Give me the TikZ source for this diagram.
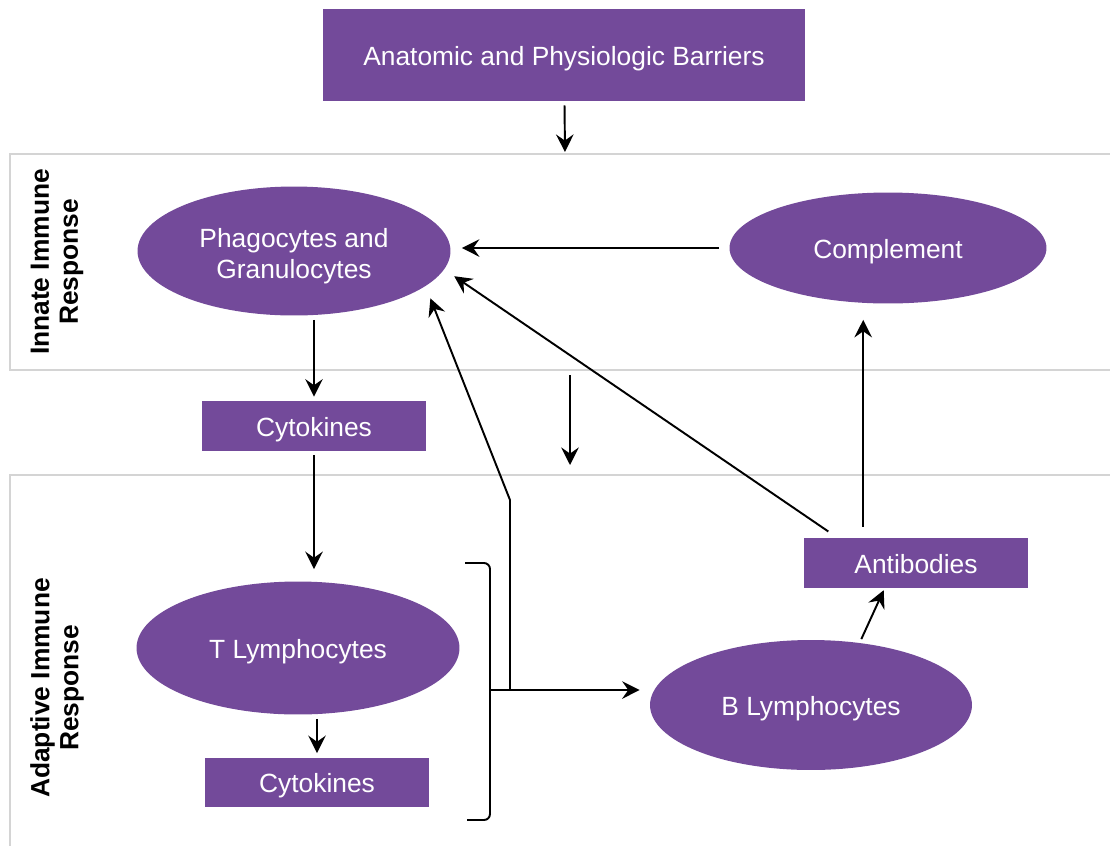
\documentclass[tikz,border=0pt]{standalone}
\usepackage{fontspec}
\setmainfont{Liberation Sans}
\usepackage{tikz}
\usetikzlibrary{shapes}
\usetikzlibrary{arrows.meta}
\usetikzlibrary{shapes.geometric}
\usetikzlibrary{calc}
\definecolor{immune}{RGB}{115,74,154}
\definecolor{panelgray}{RGB}{212,212,212}
\tikzstyle{materia}=[fill=immune, text=white, align=center, inner sep=0pt,
  font=\fontsize{15}{17.6}\selectfont]
\tikzstyle{oneline} = [text height=15pt, text depth=3.3pt]
\tikzstyle{rbox} = [materia, oneline, rectangle]
\tikzstyle{cell} = [materia, ellipse]
\tikzstyle{line} = [draw, line width=1.1pt, -{Stealth[length=10pt,width=10pt,inset=3.5pt]},
  shorten <=0.08cm, shorten >=0.08cm]
\tikzstyle{brace} = [draw, line width=1.1pt, rounded corners=0.12cm]
\tikzstyle{panel} = [draw=panelgray, line width=1.5pt]
\tikzstyle{sidetext} = [rotate=90, align=center,
  font=\bfseries\fontsize{15}{16.5}\selectfont]
\newcommand{\rbox}[3]{node (#1) [rbox,#2] {#3}}
\newcommand{\cellnode}[3]{node (#1) [cell,#2] {#3}}

\begin{document}
\begin{tikzpicture}[x=0.02cm, y=-0.02cm]
    \useasboundingbox (0,0) rectangle (1110,846);

    % Draw panels
    \path [panel] (1110,154) -- (10,154) -- (10,370) -- (1110,370);
    \path [panel] (1110,475) -- (10,475) -- (10,846);
    \path (57,262) node (innate) [sidetext] {Innate Immune\\Response};
    \path (57,688) node (adapt) [sidetext] {Adaptive Immune\\Response};

    % Draw diagram elements
    \path (564,55) \rbox{barr}{minimum width=9.66cm, minimum height=1.84cm}{Anatomic and Physiologic Barriers};
    \path (294,251) \cellnode{phago}{minimum width=6.26cm, minimum height=2.58cm}{\rule{0pt}{16.5pt}Phagocytes and\\Granulocytes};
    \path (888,248) \cellnode{compl}{oneline, minimum width=6.34cm, minimum height=2.22cm}{Complement};
    \path (314,426) \rbox{cytoA}{minimum width=4.5cm, minimum height=1cm}{Cytokines};
    \path (298,648) \cellnode{tlym}{oneline, minimum width=6.46cm, minimum height=2.66cm}{T Lymphocytes};
    \path (317,782) \rbox{cytoB}{minimum width=4.48cm, minimum height=0.98cm}{Cytokines};
    \path (811,705) \cellnode{blym}{oneline, minimum width=6.44cm, minimum height=2.6cm}{B Lymphocytes};
    \path (916,563) \rbox{abody}{minimum width=4.48cm, minimum height=1cm}{Antibodies};

    \coordinate (gate) at (565,152);
    \coordinate (drop0) at (570,375);
    \coordinate (drop1) at (570,465);
    \coordinate (brk) at (490,690);
    \coordinate (split) at (510,690);
    \coordinate (bend) at (510,500);
    \coordinate (upA) at ($(abody.north west)!0.265!(abody.north east)$);
    \coordinate (upB) at ($(abody.north west)!0.15!(abody.north east)$);

    % Draw arrows between elements
    \path [line, shorten >=0pt] (barr) -- (gate);
    \path [line, shorten <=0.2cm, shorten >=0.22cm] (compl.west) -- (phago.east |- compl.west);
    \path [line] (cytoA.north |- phago.south) -- (cytoA.north);
    \path [line, shorten >=0.24cm] (cytoA.south) -- (cytoA.south |- tlym.north);
    \path [line] (cytoB.north |- tlym.south) -- (cytoB.north);
    \path [brace] (465,563) -- (490,563) -- (brk) -- (490,820) -- (467,820);
    \path [line, shorten <=0pt, shorten >=0.2cm] (brk) -- (brk -| blym.west);
    \path [line, shorten <=0pt, shorten >=0.26cm] (split) -- (bend) -- (phago.-15.4);
    \path [line, shorten <=0pt, shorten >=0pt] (drop0) -- (drop1);
    \path [line, shorten >=0.04cm] (blym.52) -- ($(abody.south west)!0.36!(abody.south east)$);
    \path [line, shorten <=0.22cm, shorten >=0.32cm] (upA) -- (upA |- compl.south);
    \path [line, shorten <=0.22cm, shorten >=0.24cm] (upB) -- (phago.-7.6);

\end{tikzpicture}
\end{document}
